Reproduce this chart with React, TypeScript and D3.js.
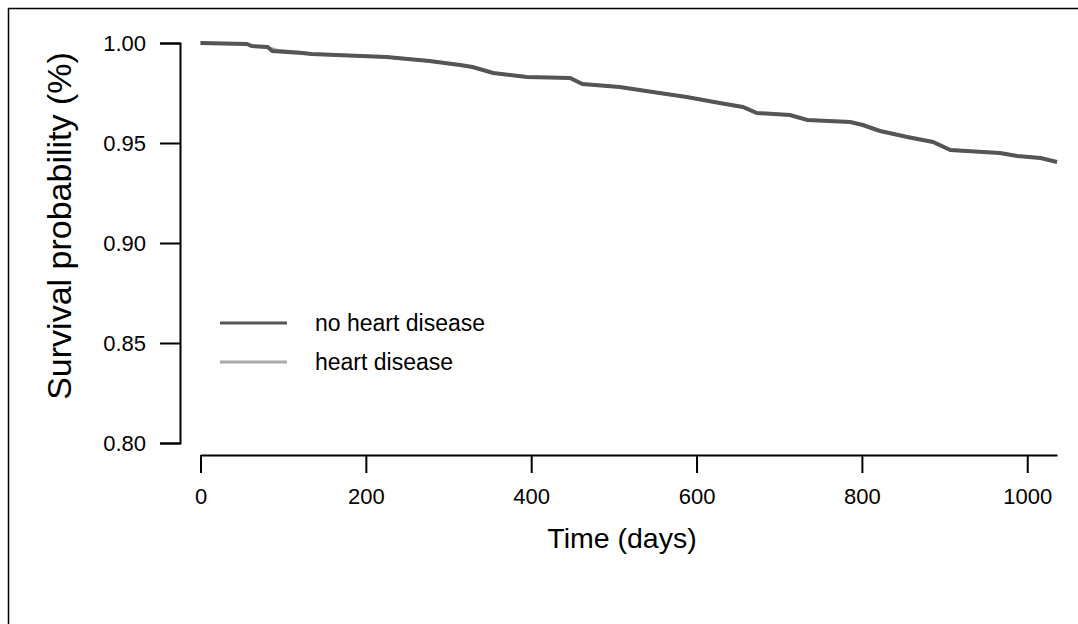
import { useEffect, useRef } from "react";
import { select, scaleLinear, axisLeft, axisBottom, line, curveLinear } from "d3";

// days and survival
const days = [0, 56, 62, 81, 87, 123, 134, 225, 277, 314, 329, 354, 395, 447, 462, 507, 547, 588, 628, 656, 673, 713, 734, 786, 801, 822, 855, 886, 907, 967, 988, 1016, 1036];
const noHeartDisease = [1.0, 0.9995, 0.9985, 0.998, 0.996, 0.995, 0.9945, 0.993, 0.991, 0.989, 0.988, 0.985, 0.983, 0.9825, 0.9795, 0.978, 0.9755, 0.973, 0.97, 0.968, 0.965, 0.964, 0.9615, 0.9605, 0.959, 0.956, 0.953, 0.9505, 0.9465, 0.945, 0.9435, 0.9425, 0.9405];

// the second curve sits almost exactly under the first one
const heartDays = [0, 56, 62, 81, 95, 123, 134, 225, 277, 314, 329, 354, 395, 447, 462, 507, 547, 588, 628, 656, 673, 713, 734, 786, 801, 822, 855, 886, 907, 967, 988, 1016, 1036];
const heartDisease = [1.0, 0.9994, 0.9986, 0.9978, 0.9962, 0.9952, 0.9945, 0.993, 0.991, 0.989, 0.988, 0.985, 0.983, 0.9825, 0.9795, 0.978, 0.9755, 0.973, 0.97, 0.968, 0.965, 0.964, 0.9615, 0.9605, 0.959, 0.956, 0.953, 0.9505, 0.9465, 0.945, 0.9435, 0.9425, 0.9405];

const yTicks = [0.8, 0.85, 0.9, 0.95, 1.0];
const xTicks = [0, 200, 400, 600, 800, 1000];

const series = [
  { name: "no heart disease", x: days, y: noHeartDisease, color: "#555555", width: 4 },
  { name: "heart disease", x: heartDays, y: heartDisease, color: "#aaaaaa", width: 3 },
];

const FONT = "'Liberation Sans', Arial, sans-serif";

export default function App() {
  const ref = useRef<SVGSVGElement | null>(null);

  useEffect(() => {
    const svg = select(ref.current);
    svg.selectAll("*").remove();

    // frame (right and bottom edges fall outside the picture)
    svg.append("line").attr("x1", 8).attr("x2", 1078).attr("y1", 8.5).attr("y2", 8.5).attr("stroke", "#000").attr("stroke-width", 1.5);
    svg.append("line").attr("x1", 8.5).attr("x2", 8.5).attr("y1", 8).attr("y2", 624).attr("stroke", "#000").attr("stroke-width", 1.5);

    const x = scaleLinear().domain([0, 1036]).range([200.5, 1057]);
    const y = scaleLinear().domain([0.8, 1.0]).range([443, 43]);

    // Y axis
    const yAxis = axisLeft(y).tickValues(yTicks).tickFormat((d: any) => (+d).toFixed(2)).tickSize(20).tickPadding(14);
    const gy = svg.append("g").attr("transform", "translate(180,0)").call(yAxis as any);
    gy.selectAll("path, line").attr("stroke", "#000").attr("stroke-width", 2);
    gy.selectAll("text").attr("font-family", FONT).attr("font-size", 22).attr("fill", "#000");

    // X axis
    const xAxis = axisBottom(x).tickValues(xTicks).tickFormat((d: any) => String(d)).tickSize(18).tickSizeOuter(0).tickPadding(15);
    const gx = svg.append("g").attr("transform", "translate(0,455)").call(xAxis as any);
    gx.selectAll("path, line").attr("stroke", "#000").attr("stroke-width", 2);
    gx.selectAll("text").attr("font-family", FONT).attr("font-size", 22).attr("fill", "#000");

    // curves, light one underneath
    [...series].reverse().forEach((s) => {
      const pts = s.x.map((d, i) => [d, s.y[i]] as [number, number]);
      const path = line<[number, number]>()
        .x((d) => x(d[0]))
        .y((d) => y(d[1]))
        .curve(curveLinear);
      svg.append("path").attr("d", path(pts)).attr("fill", "none").attr("stroke", s.color).attr("stroke-width", s.width);
    });

    // legend
    series.forEach((s, i) => {
      const ly = 323 + i * 39;
      svg.append("line").attr("x1", 220).attr("x2", 287).attr("y1", ly).attr("y2", ly).attr("stroke", s.color).attr("stroke-width", 3);
      svg.append("text").attr("x", 315).attr("y", ly).attr("dy", "0.35em").attr("font-family", FONT).attr("font-size", 23).text(s.name);
    });

    // axis titles
    svg.append("text").attr("x", 622).attr("y", 548).attr("text-anchor", "middle").attr("font-family", FONT).attr("font-size", 28.5).text("Time (days)");
    svg.append("text").attr("transform", "translate(71,226) rotate(-90)").attr("text-anchor", "middle").attr("font-family", FONT).attr("font-size", 34).text("Survival probability (%)");
  }, []);

  return (
    <div style={{ position: "fixed", left: 0, top: 0, width: 1078, height: 624, overflow: "hidden", background: "#fff" }}>
      <svg ref={ref} width={1078} height={624} style={{ display: "block" }} />
    </div>
  );
}
